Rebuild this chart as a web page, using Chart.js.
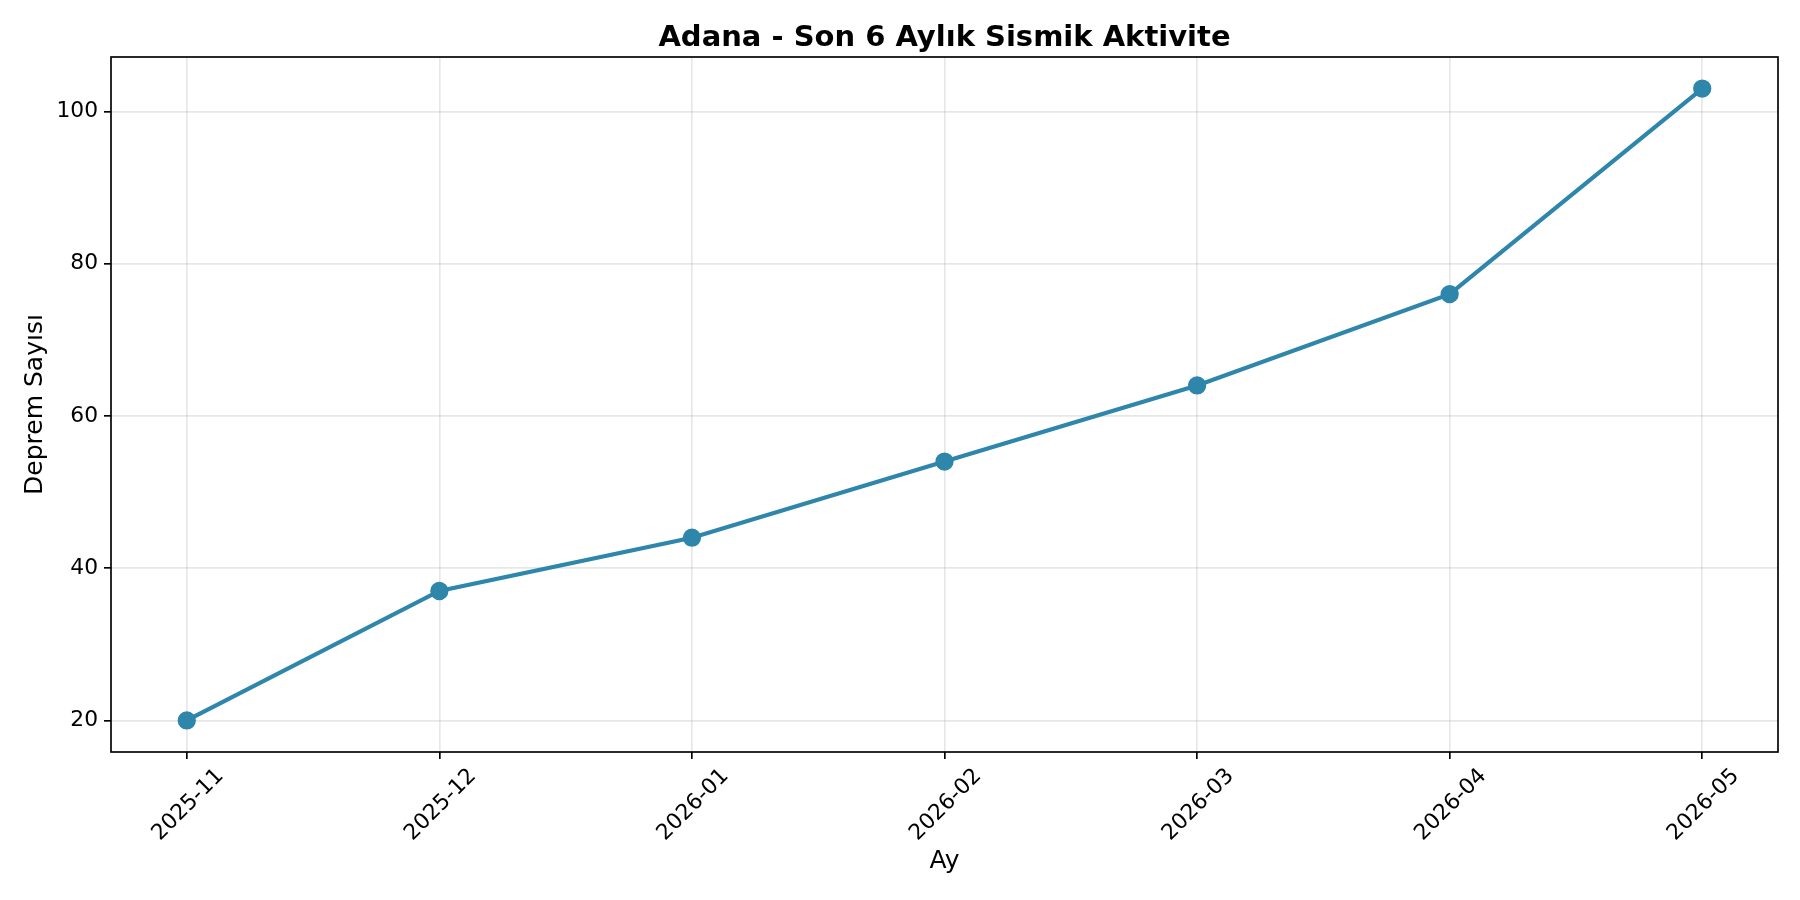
<!DOCTYPE html>
<html><head><meta charset="utf-8">
<script src="https://cdn.jsdelivr.net/npm/chart.js@4.4.1/dist/chart.umd.min.js"></script>
<style>html,body{margin:0;padding:0;background:#fff}</style>
</head><body>
<canvas id="c" width="1800" height="900" style="width:1800px;height:900px;display:block"></canvas>
<script>
const months = ['2025-11','2025-12','2026-01','2026-02','2026-03','2026-04','2026-05'];
const counts = [20, 37, 44, 54, 64, 76, 103];
const yTicks = [20, 40, 60, 80, 100];
const titleText = 'Adana - Son 6 Aylık Sismik Aktivite';
const xTitle = 'Ay';
const yTitle = 'Deprem Sayısı';

const FONT = '"DejaVu Sans", sans-serif';
const LW = 0.8 * 150 / 72;

const frame = {
  id: 'frame',
  afterDatasetsDraw(chart) {
    const a = chart.chartArea, ctx = chart.ctx;
    ctx.save();
    ctx.strokeStyle = '#000';
    ctx.lineWidth = LW;
    ctx.strokeRect(a.left, a.top, a.right - a.left, a.bottom - a.top);
    ctx.fillStyle = '#000';
    ctx.font = 'bold 29px ' + FONT;
    ctx.textAlign = 'center';
    ctx.textBaseline = 'alphabetic';
    ctx.fillText(titleText, (a.left + a.right) / 2, 45.5);
    ctx.restore();
  }
};

new Chart(document.getElementById('c'), {
  type: 'line',
  data: {
    datasets: [{
      data: counts.map((v, i) => ({ x: i, y: v })),
      borderColor: '#2E86AB',
      backgroundColor: '#2E86AB',
      borderWidth: 2 * 150 / 72,
      pointRadius: 8.4,
      pointBorderWidth: 1.5,
      pointBorderColor: '#2E86AB',
      pointBackgroundColor: '#2E86AB',
      tension: 0,
      fill: false
    }]
  },
  options: {
    responsive: false,
    devicePixelRatio: 1,
    animation: false,
    events: [],
    layout: { padding: { left: 0, right: 22, top: 57, bottom: 0 } },
    plugins: {
      legend: { display: false },
      tooltip: { enabled: false },
      title: { display: false }
    },
    scales: {
      x: {
        type: 'linear',
        min: -0.3,
        max: 6.3,
        afterBuildTicks(s) { s.ticks = months.map((m, i) => ({ value: i })); },
        afterFit(s) { s.height = 148; },
        ticks: {
          callback: (v) => months[v],
          color: '#000',
          font: { family: FONT, size: 21.8 },
          minRotation: 45,
          maxRotation: 45,
          autoSkip: false,
          padding: 4.5,
          labelOffset: 33.5
        },
        grid: {
          color: 'rgba(176,176,176,0.3)',
          lineWidth: LW,
          tickColor: '#000',
          tickWidth: LW,
          tickLength: 7
        },
        border: { display: false },
        title: {
          display: true,
          text: xTitle,
          color: '#000',
          font: { family: FONT, size: 25 },
          padding: { top: 0, bottom: 23.3 }
        }
      },
      y: {
        type: 'linear',
        min: 15.85,
        max: 107.15,
        afterBuildTicks(s) { s.ticks = yTicks.map(v => ({ value: v })); },
        afterFit(s) { s.width = 111; },
        ticks: {
          color: '#000',
          font: { family: FONT, size: 21.8 },
          padding: 6
        },
        grid: {
          color: 'rgba(176,176,176,0.3)',
          lineWidth: LW,
          tickColor: '#000',
          tickWidth: LW,
          tickLength: 7
        },
        border: { display: false },
        title: {
          display: true,
          text: yTitle,
          color: '#000',
          font: { family: FONT, size: 25 },
          padding: { top: 20, bottom: 0 }
        }
      }
    }
  },
  plugins: [frame]
});
</script>
</body></html>
